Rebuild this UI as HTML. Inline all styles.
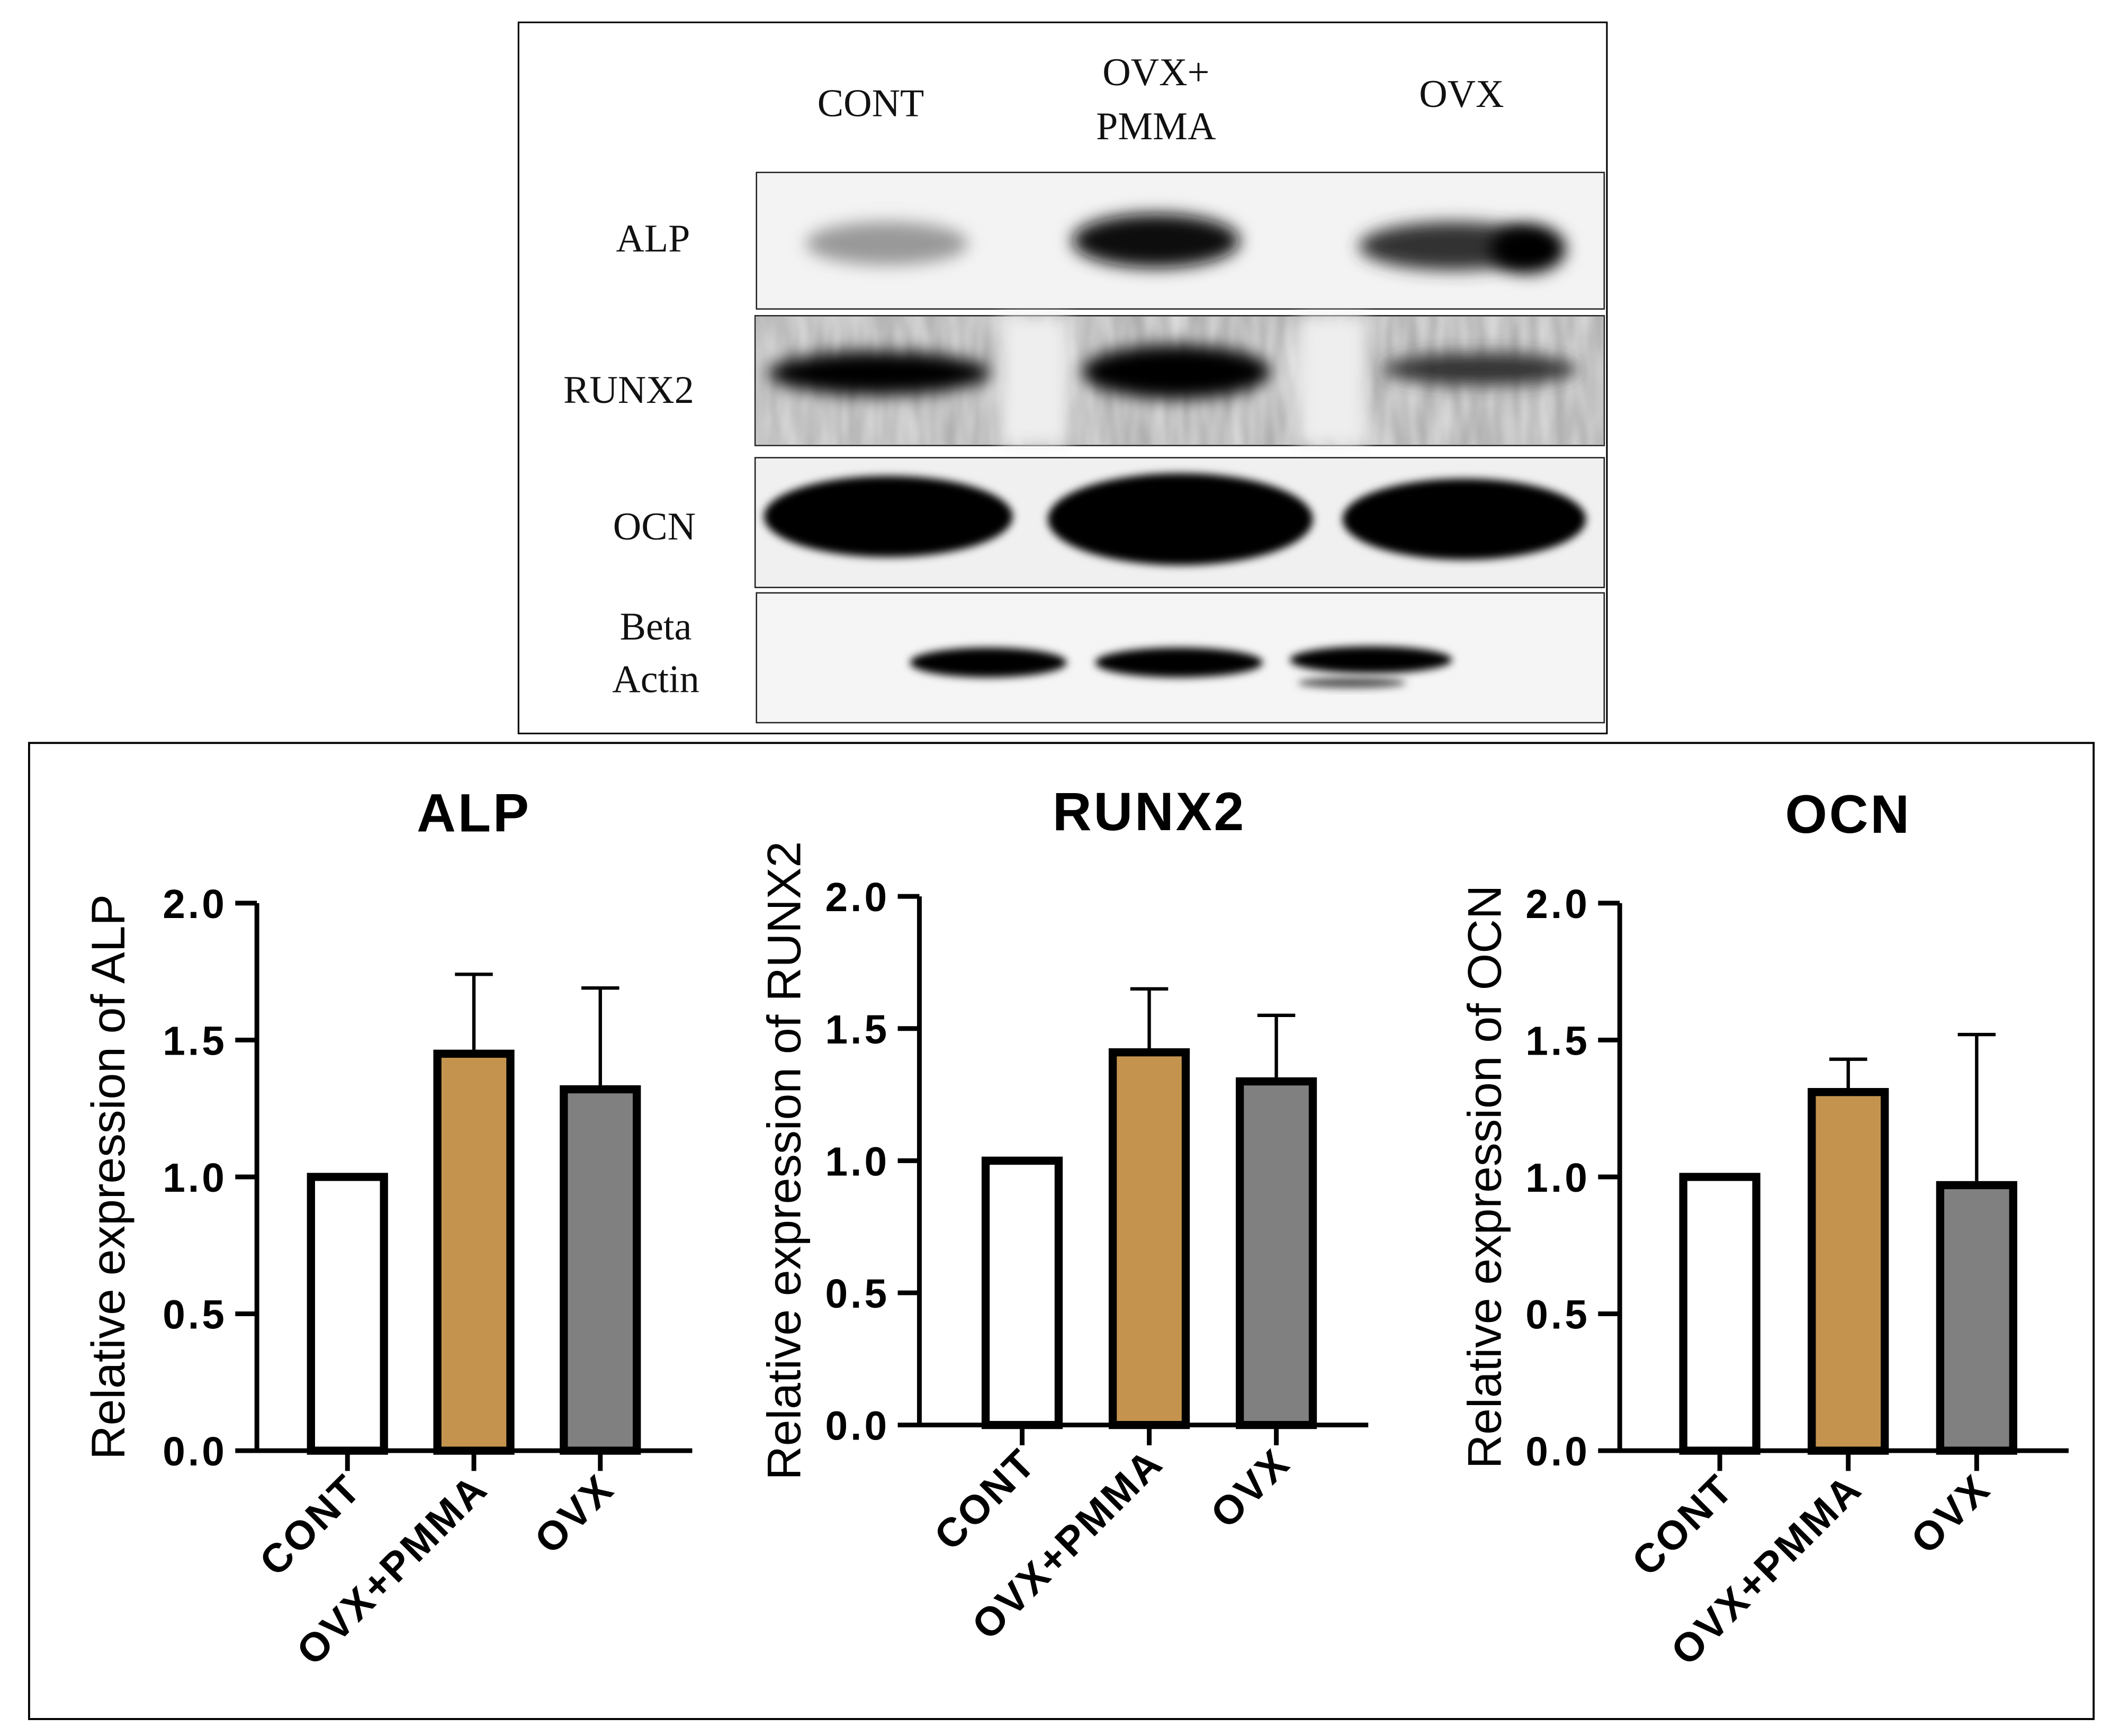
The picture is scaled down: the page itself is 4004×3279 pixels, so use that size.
<!DOCTYPE html>
<html><head><meta charset="utf-8"><style>
html,body{margin:0;padding:0;background:#fff;}
svg{display:block;}
</style></head><body>
<svg id="fig" width="4004" height="3279" viewBox="0 0 1568 1284" xmlns="http://www.w3.org/2000/svg" font-family="Liberation Sans, Arial, sans-serif">
<defs>
<filter id="blur6" x="-30%" y="-60%" width="160%" height="220%"><feGaussianBlur stdDeviation="6"/></filter>
<filter id="blur3" x="-30%" y="-60%" width="160%" height="220%"><feGaussianBlur stdDeviation="3"/></filter>
<filter id="noise" x="0" y="0" width="100%" height="100%"><feTurbulence type="fractalNoise" baseFrequency="0.08 0.02" numOctaves="2" seed="3"/><feColorMatrix type="matrix" values="0 0 0 0 0.4  0 0 0 0 0.4  0 0 0 0 0.4  0 0 0 -1.2 1.1"/></filter>
</defs>
<rect x="0" y="0" width="1568" height="1284" fill="#fff"/>
<g>
<rect x="383.5" y="16.5" width="805" height="526" fill="#fff" stroke="#000" stroke-width="1.2"/>
<g font-family="Liberation Serif, Times New Roman, serif" font-size="29" fill="#111" text-anchor="middle">
<text x="644" y="86">CONT</text>
<text x="855" y="63">OVX+</text>
<text x="855" y="103">PMMA</text>
<text x="1081" y="79">OVX</text>
<text x="483" y="186">ALP</text>
<text x="465" y="298">RUNX2</text>
<text x="484" y="399">OCN</text>
<text x="485" y="473">Beta</text>
<text x="485" y="512">Actin</text>
</g>
<g>
<rect x="559.5" y="127.5" width="627" height="101" fill="#f3f3f3" stroke="#222" stroke-width="1"/>
<ellipse cx="656" cy="180" rx="60" ry="16" fill="#999" filter="url(#blur6)"/>
<ellipse cx="855" cy="178" rx="62" ry="20" fill="#111" filter="url(#blur6)"/>
<ellipse cx="1075" cy="182" rx="70" ry="18" fill="#333" filter="url(#blur6)"/>
<ellipse cx="1130" cy="184" rx="28" ry="18" fill="#000" filter="url(#blur6)"/>
</g>
<g>
<rect x="558.5" y="233.5" width="628" height="96" fill="#ddd" stroke="#222" stroke-width="1"/>
<rect x="559" y="234" width="627" height="95" filter="url(#noise)"/>
<rect x="740" y="234" width="50" height="95" fill="#eee" filter="url(#blur6)"/>
<rect x="960" y="234" width="50" height="95" fill="#eee" filter="url(#blur6)"/>
<ellipse cx="650" cy="276" rx="82" ry="16" fill="#000" filter="url(#blur6)"/>
<ellipse cx="870" cy="275" rx="70" ry="20" fill="#000" filter="url(#blur6)"/>
<ellipse cx="1095" cy="273" rx="72" ry="12" fill="#333" filter="url(#blur6)"/>
</g>
<g>
<rect x="558.5" y="338.5" width="628" height="96" fill="#f0f0f0" stroke="#222" stroke-width="1"/>
<ellipse cx="657" cy="382" rx="92" ry="30" fill="#000" filter="url(#blur3)"/>
<ellipse cx="873" cy="384" rx="98" ry="34" fill="#000" filter="url(#blur3)"/>
<ellipse cx="1083" cy="384" rx="90" ry="30" fill="#000" filter="url(#blur3)"/>
</g>
<g>
<rect x="559.5" y="438.5" width="627" height="96" fill="#f5f5f5" stroke="#222" stroke-width="1"/>
<ellipse cx="731" cy="490" rx="58" ry="11" fill="#000" filter="url(#blur3)"/>
<ellipse cx="872" cy="490" rx="62" ry="11" fill="#000" filter="url(#blur3)"/>
<ellipse cx="1014" cy="488" rx="60" ry="10" fill="#000" filter="url(#blur3)"/>
<ellipse cx="1000" cy="505" rx="40" ry="4" fill="#555" filter="url(#blur3)"/>
</g>
</g>
<rect x="21.5" y="549.5" width="1527" height="722" fill="none" stroke="#000" stroke-width="1.5"/>
<g id="charts"></g>
</svg>
<script>
const categories = ["CONT", "OVX+PMMA", "OVX"];
const alpValues = [1.0, 1.45, 1.32];
const alpErrors = [0, 0.29, 0.37];
const runx2Values = [1.0, 1.41, 1.30];
const runx2Errors = [0, 0.24, 0.25];
const ocnValues = [1.0, 1.31, 0.97];
const ocnErrors = [0, 0.12, 0.55];
const yTicks = [0, 0.5, 1.0, 1.5, 2.0];
const yTickLabels = ["0.0", "0.5", "1.0", "1.5", "2.0"];
const barColors = ["#ffffff", "#c4944f", "#808080"];

const NS = "http://www.w3.org/2000/svg";
const root = document.getElementById("charts");
function mk(tag, attrs, parent) {
  const e = document.createElementNS(NS, tag);
  for (const k in attrs) e.setAttribute(k, attrs[k]);
  parent.appendChild(e);
  return e;
}
const panels = [
  {key:"alp", title:"ALP", values:alpValues, errors:alpErrors, ax:190, y0:1073, y2:668, xEnd:512, x0:257, step:93.5, titleY:615, ylabX:92},
  {key:"runx2", title:"RUNX2", values:runx2Values, errors:runx2Errors, ax:680, y0:1054, y2:663, xEnd:1012, x0:756, step:94, titleY:614, ylabX:592},
  {key:"ocn", title:"OCN", values:ocnValues, errors:ocnErrors, ax:1198, y0:1073, y2:668, xEnd:1530, x0:1272, step:95, titleY:616, ylabX:1110}
];
panels.forEach(p => {
  const g = mk("g", {}, root);
  
  
  const yScale = v => p.y0 - (v / 2) * (p.y0 - p.y2);
  const xScale = i => p.x0 + i * p.step;
  const t = mk("text", {x: xScale(1), y: p.titleY, "text-anchor":"middle", "font-size":"40", "font-weight":"bold", "letter-spacing":"1.5", fill:"#000"}, g);
  t.textContent = p.title;
  
  
  const yl = mk("text", {x: 0, y: 0, transform:`translate(${p.ylabX},${(p.y0+p.y2)/2}) rotate(-90)`, "text-anchor":"middle", "font-size":"35", fill:"#000"}, g);
  yl.textContent = "Relative expression of " + p.title;
  
  
  p.values.forEach((v, i) => {
    const cx = xScale(i), top = yScale(v), bw = 54;
    const b = mk("rect", {x: cx - bw/2, y: top, width: bw, height: p.y0 - top, fill: barColors[i], stroke:"#000", "stroke-width":"6"}, g);
    
    
    if (p.errors[i] > 0) {
      const ye = yScale(v + p.errors[i]);
      const e = mk("path", {d:`M${cx},${top-3}V${ye}M${cx-14},${ye}H${cx+14}`, stroke:"#000", "stroke-width":"2.5", fill:"none"}, g);
      
      
    }
    const tk = mk("line", {x1:cx, x2:cx, y1:p.y0, y2:p.y0+15, stroke:"#000", "stroke-width":"3.5"}, g);
    
    
    const lb = mk("text", {x:0, y:0, transform:`translate(${cx+12},${p.y0+30}) rotate(-45)`, "text-anchor":"end", "font-size":"30", "font-weight":"bold", "letter-spacing":"1.5", fill:"#000"}, g);
    lb.textContent = categories[i];
    
    
  });
  const axes = mk("path", {d:`M${p.ax},${p.y2}V${p.y0}H${p.xEnd}`, stroke:"#000", "stroke-width":"3.5", fill:"none"}, g);
  
  
  yTicks.forEach((tv, j) => {
    const y = yScale(tv);
    const tl = mk("line", {x1:p.ax-16, x2:p.ax, y1:y, y2:y, stroke:"#000", "stroke-width":"3.5"}, g);
    
    
    const tt = mk("text", {x:p.ax-22, y:y+11, "text-anchor":"end", "font-size":"30", "font-weight":"bold", "letter-spacing":"2", fill:"#000"}, g);
    tt.textContent = yTickLabels[j];
    
    
  });
});
</script>
</body></html>
